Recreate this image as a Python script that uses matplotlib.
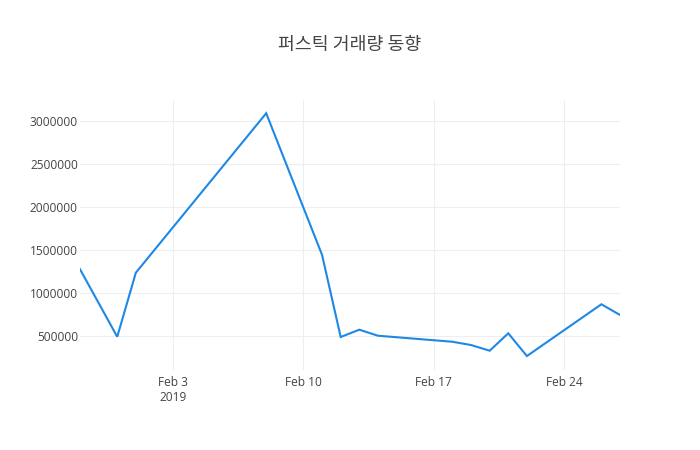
import numpy as np
import matplotlib
matplotlib.use("Agg")
import matplotlib.pyplot as plt
from datetime import datetime

# daily volume
dates = ["2019-01-29", "2019-01-31", "2019-02-01", "2019-02-08", "2019-02-11",
         "2019-02-12", "2019-02-13", "2019-02-14", "2019-02-18", "2019-02-19",
         "2019-02-20", "2019-02-21", "2019-02-22", "2019-02-26", "2019-02-27"]
volume = [1279000, 495000, 1239000, 3090000, 1445000,
          492000, 577000, 507000, 437000, 399000,
          333000, 535000, 271000, 872000, 748000]

y_ticks = [500000, 1000000, 1500000, 2000000, 2500000, 3000000]
x_ticks = ["2019-02-03", "2019-02-10", "2019-02-17", "2019-02-24"]
x_tick_labels = ["Feb 3\n2019", "Feb 10", "Feb 17", "Feb 24"]
title = "퍼스틱 거래량 동향"

x = [datetime.strptime(d, "%Y-%m-%d") for d in dates]
xt = [datetime.strptime(d, "%Y-%m-%d") for d in x_ticks]

fig = plt.figure(figsize=(7, 4.5), dpi=100)
ax = fig.add_axes([80 / 700, 80 / 450, 540 / 700, 270 / 450])

ax.plot(x, volume, color="#1e88e5", linewidth=1.5, solid_joinstyle="miter")

ax.set_xlim(x[0], x[-1])
ax.set_ylim(109000, 3244000)  # plotly autorange

ax.set_yticks(y_ticks)
ax.set_yticklabels([str(v) for v in y_ticks])
ax.set_xticks(xt)
ax.set_xticklabels(x_tick_labels, linespacing=1.25)

for s in ax.spines.values():
    s.set_visible(False)
ax.grid(True, color="#eeeeee", linewidth=0.8)
ax.set_axisbelow(True)
ax.tick_params(length=0, labelsize=8.6, labelcolor="#444444")
ax.tick_params(axis="y", pad=1.5)
ax.tick_params(axis="x", pad=4)
for lab in ax.get_xticklabels() + ax.get_yticklabels():
    lab.set_family(["Open Sans", "DejaVu Sans"])

fig.text(0.5, 1 - 45 / 450, title, ha="center", va="center", fontsize=13.2,
         color="#444444", family=["Noto Sans CJK KR", "DejaVu Sans"])

fig.savefig("out.png", dpi=100, facecolor="white")
